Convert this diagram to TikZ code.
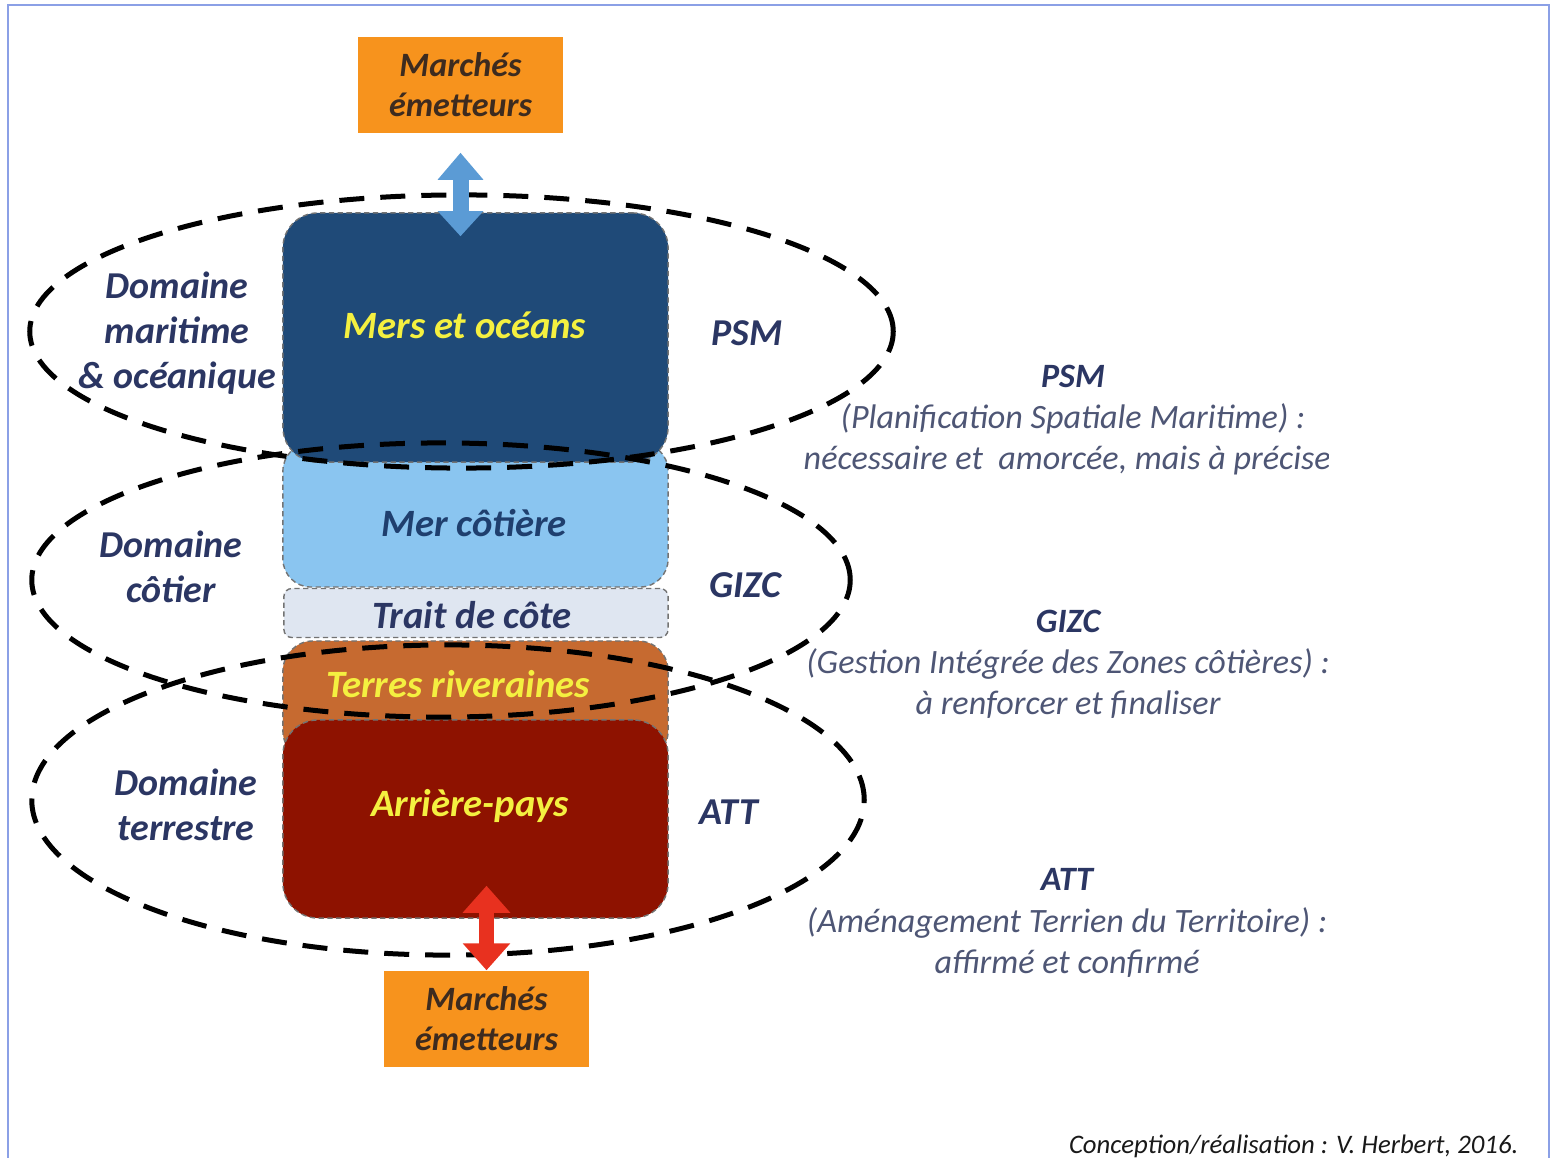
\documentclass[tikz,border=0pt]{standalone}
\usepackage{fontspec}
\setmainfont{Carlito}
\usetikzlibrary{arrows.meta}
\definecolor{navy}{HTML}{2B3663}
\definecolor{descgray}{HTML}{4E5675}
\definecolor{orng}{HTML}{F7931D}
\definecolor{brownt}{HTML}{3D2B1F}
\definecolor{deepblue}{HTML}{1F4A78}
\definecolor{lightblue}{HTML}{8AC5F0}
\definecolor{paleblue}{HTML}{DFE6F1}
\definecolor{terrac}{HTML}{C66A30}
\definecolor{darkred}{HTML}{8E1200}
\definecolor{yel}{HTML}{F4F040}
\definecolor{arrowblue}{HTML}{5B9BD5}
\definecolor{arrowred}{HTML}{E8311F}
\definecolor{frameblue}{HTML}{8BA0E6}
\definecolor{coastnavy}{HTML}{1F3F6E}
\tikzset{
  zonebox/.style={draw=black!55, line width=0.4pt, dash pattern=on 1.5pt off 1pt, inner sep=0pt},
  market/.style={fill=orng, inner sep=0pt, minimum width=2.05cm, minimum height=0.96cm, align=center,
    text=brownt, font=\bfseries\itshape\fontsize{9.7}{11.4}\selectfont},
  boxtext/.style={font=\bfseries\itshape\fontsize{11}{12}\selectfont, inner sep=0pt},
  dom/.style={align=center, text=navy, font=\bfseries\itshape\fontsize{10.8}{12.8}\selectfont, inner sep=0pt},
  desc/.style={align=center, text=descgray, font=\itshape\fontsize{9.7}{11.7}\selectfont, inner sep=0pt},
  zone/.style={draw=black, line width=0.05cm, dash pattern=on 0.25cm off 0.16cm},
  bluearr/.style={draw=arrowblue, line width=0.16cm,
    {Triangle[width=0.44cm,length=0.27cm]}-{Triangle[width=0.44cm,length=0.25cm]}},
  redarr/.style={draw=arrowred, line width=0.15cm,
    {Triangle[width=0.46cm,length=0.27cm]}-{Triangle[width=0.46cm,length=0.27cm]}}
}
\begin{document}
\begin{tikzpicture}[x=0.01cm,y=-0.01cm]
\useasboundingbox (0,0) rectangle (1552,1158);
% frame
\draw[frameblue, line width=0.02cm] (8,1160) -- (8,5) -- (1549,5) -- (1549,1160);

% market boxes
\node[market] (mtop) at (460.5,85) {Marchés\\émetteurs};
\node[market] (mbot) at (486.5,1019) {Marchés\\émetteurs};

% zone boxes (back to front)
\node[zonebox, fill=lightblue, minimum width=3.85cm, minimum height=1.44cm, rounded corners=0.28cm] (mercot) at (475.5,515) {};
\node[zonebox, fill=deepblue, minimum width=3.85cm, minimum height=2.49cm, rounded corners=0.35cm] (mers) at (475.5,337.5) {};
\node[zonebox, fill=paleblue, minimum width=3.84cm, minimum height=0.49cm, rounded corners=0.08cm] (trait) at (476,613) {};
\node[zonebox, fill=terrac, minimum width=3.85cm, minimum height=1.20cm, rounded corners=0.30cm] (terres) at (475.5,701) {};
\node[zonebox, fill=darkred, minimum width=3.85cm, minimum height=1.98cm, rounded corners=0.35cm] (arr) at (475.5,819) {};

% zone texts
\node[boxtext, text=yel] (mersT) at (465,325) {Mers et océans};
\node[boxtext, text=coastnavy] (mercotT) at (474,523) {Mer côtière};
\node[boxtext, text=navy] (traitT) at (472,615) {Trait de côte};
\node[boxtext, text=yel] (terresT) at (458,684) {Terres riveraines};
\node[boxtext, text=yel] (arrT) at (470,806) {Arrière-pays};

% dashed ellipses
\draw[zone] (461.5,331.5) ellipse [x radius=4.315cm, y radius=1.365cm];
\draw[zone] (441,580) ellipse [x radius=4.09cm, y radius=1.37cm];
\draw[zone] (448,800) ellipse [x radius=4.16cm, y radius=1.55cm];

% double arrows
\coordinate (btip) at ([yshift=-0.19cm]mtop.south);
\draw[bluearr] (btip) -- ([yshift=-0.24cm]mers.north -| btip);
\coordinate (rtip) at ([yshift=0.33cm]arr.south);
\draw[redarr] (mbot.north |- rtip) -- (mbot.north);

% domain labels
\node[dom] (d1) at (177,333) {Domaine\\maritime\\\& océanique};
\node[dom] (d2) at (171,567) {Domaine\\côtier};
\node[dom] (d3) at (186,805) {Domaine\\terrestre};
\node[dom] (p1) at (747,333) {PSM};
\node[dom] (p2) at (745,585) {GIZC};
\node[dom] (p3) at (729,812) {ATT};

% descriptions (clipped on the right as in the source)
\begin{scope}
\clip (780,340) rectangle (1328,1000);
\node[desc] (t1) at (1073,420) {{\bfseries\color{navy}PSM}\\(Planification Spatiale Maritime) :\\nécessaire et\ \ amorcée, mais à préciser};
\node[desc] (t2) at (1068,664) {{\bfseries\color{navy}GIZC}\\(Gestion Intégrée des Zones côtières) :\\à renforcer et finaliser};
\node[desc] (t3) at (1067,923) {{\bfseries\color{navy}ATT}\\(Aménagement Terrien du Territoire) :\\affirmé et confirmé};
\end{scope}

% credit
\node[anchor=east, inner sep=0pt, text=black!90, font=\itshape\fontsize{7.6}{9}\selectfont] (credit) at (1519,1146) {Conception/réalisation : V. Herbert, 2016.};
\end{tikzpicture}
\end{document}
